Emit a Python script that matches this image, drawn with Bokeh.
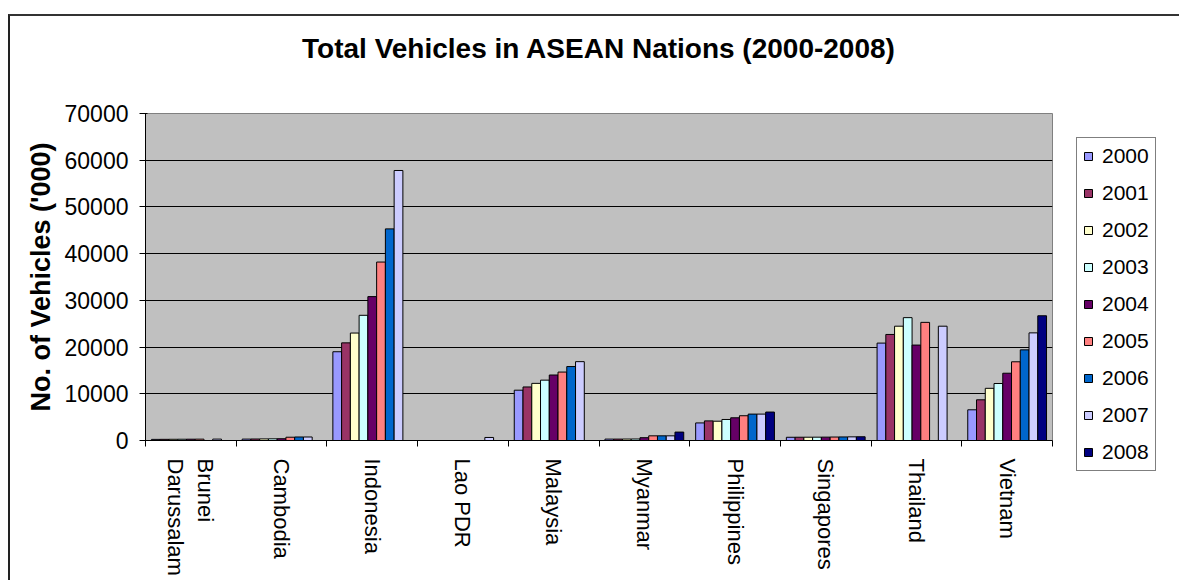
import math
from bokeh.plotting import figure
from bokeh.models import ColumnDataSource, Range1d, FixedTicker, Legend, LegendItem, NumeralTickFormatter
from bokeh.transform import dodge
from bokeh.embed import file_html
from bokeh.resources import INLINE

nan = float("nan")

countries = ["Brunei\nDarussalam", "Cambodia", "Indonesia", "Lao PDR", "Malaysia",
             "Myanmar", "Philippines", "Singapores", "Thailand", "Vietnam"]
years = ["2000", "2001", "2002", "2003", "2004", "2005", "2006", "2007", "2008"]
colors = ["#9999FF", "#993366", "#FFFFCC", "#CCFFFF", "#660066",
          "#FF8080", "#0066CC", "#CCCCFF", "#000080"]

v2000 = [240, 300, 19000, nan, 10770, 300, 3760, 690, 20850, 6570]
v2001 = [250, 320, 20900, nan, 11460, 300, 4200, 700, 22700, 8710]
v2002 = [260, 340, 23000, nan, 12230, 310, 4130, 705, 24470, 11170]
v2003 = [270, 360, 26800, nan, 12920, 320, 4500, 710, 26300, 12200]
v2004 = [280, 380, 30800, nan, 14020, 600, 4860, 720, 20430, 14400]
v2005 = [290, 700, 38200, nan, 14650, 1000, 5300, 740, 25290, 16850]
v2006 = [nan, 750, 45300, nan, 15830, 1000, 5650, 760, nan, 19400]
v2007 = [300, 750, 57800, 650, 16880, 1000, 5650, 780, 24470, 23040]
v2008 = [nan, nan, nan, nan, nan, 1800, 6090, 800, nan, 26700]
series = [v2000, v2001, v2002, v2003, v2004, v2005, v2006, v2007, v2008]

y_ticks = [0, 10000, 20000, 30000, 40000, 50000, 60000, 70000]
title_text = "Total Vehicles in ASEAN Nations (2000-2008)"

FONT = "Liberation Sans"

x_center = [i + 0.5 for i in range(len(countries))]
data = {"x": x_center}
for yr, vals in zip(years, series):
    data[yr] = vals
src = ColumnDataSource(data)

p = figure(frame_width=907, frame_height=327, title=title_text,
           x_range=Range1d(0, len(countries)), y_range=Range1d(0, 70000),
           output_backend="svg", toolbar_location=None,
           min_border_left=135, min_border_right=20,
           min_border_top=97, min_border_bottom=140)

p.styles = {"border-top": "2px solid #333", "border-left": "2px solid #222",
            "margin-top": "14px", "margin-left": "8px"}

w = 0.0965
items = []
for i, (yr, col) in enumerate(zip(years, colors)):
    r = p.vbar(x=dodge("x", (i - 4) * w), top=yr, bottom=0, width=w, source=src,
               fill_color=col, line_color="black", line_width=1)
    items.append(LegendItem(label=yr, renderers=[r]))

legend = Legend(items=items, location="top_left",
                label_text_font=FONT, label_text_font_size="21px",
                label_text_color="black",
                glyph_width=10, glyph_height=10, label_standoff=9,
                spacing=13, padding=6, margin=24, label_height=20,
                border_line_color="black", border_line_width=1,
                background_fill_color="white", background_fill_alpha=1)
p.add_layout(legend, "right")

p.title.align = "center"
p.title.text_font = FONT
p.title.text_font_size = "28px"
p.title.text_font_style = "bold"
p.title.text_color = "black"
p.title.padding = {"left": 0, "right": 0, "top": 0, "bottom": 45}

xa = p.xaxis[0]
xa.ticker = FixedTicker(ticks=x_center, minor_ticks=list(range(len(countries) + 1)))
xa.major_label_overrides = {x: c for x, c in zip(x_center, countries)}
xa.major_label_orientation = -math.pi / 2
xa.major_tick_line_color = None
xa.major_tick_out = 0
xa.major_tick_in = 0
xa.minor_tick_out = 6
xa.minor_tick_in = 0
xa.minor_tick_line_color = "black"
xa.axis_line_color = "black"
xa.major_label_standoff = 12
xa.major_label_text_font = FONT
xa.major_label_text_font_size = "22px"
xa.major_label_text_color = "black"

ya = p.yaxis[0]
ya.ticker = FixedTicker(ticks=y_ticks, minor_ticks=[])
ya.formatter = NumeralTickFormatter(format="0")
ya.major_tick_out = 6
ya.major_tick_in = 2
ya.major_tick_line_color = "black"
ya.minor_tick_line_color = None
ya.axis_line_color = "black"
ya.major_label_text_font = FONT
ya.major_label_text_font_size = "23px"
ya.major_label_text_color = "black"
ya.major_label_standoff = 11
ya.axis_label = "No. of Vehicles ('000)"
ya.axis_label_text_font = FONT
ya.axis_label_text_font_size = "27px"
ya.axis_label_text_font_style = "bold"
ya.axis_label_text_color = "black"
ya.axis_label_standoff = 6

p.xgrid.visible = False
p.ygrid.grid_line_color = "black"
p.ygrid.grid_line_width = 1

p.background_fill_color = "#C0C0C0"
p.outline_line_color = "#808080"
p.border_fill_color = "white"

open("out.html", "w").write(file_html(p, INLINE))
